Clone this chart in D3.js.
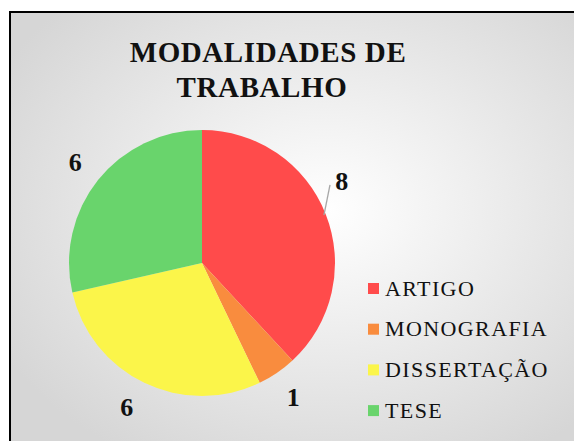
<!DOCTYPE html>
<html lang="en">
<head>
<meta charset="utf-8">
<title>Modalidades de trabalho</title>
<script src="https://d3js.org/d3.v7.min.js"></script>
<style>
  body { margin: 0; background: #fff; }
</style>
</head>
<body>
<div id="chart"></div>
<script>
// data
var categories = ['ARTIGO', 'MONOGRAFIA', 'DISSERTAÇÃO', 'TESE'];
var values = [8, 1, 6, 6];
var colors = ['#ff4b4b', '#f98c3e', '#fbf54a', '#69d46c'];
var titleLines = ['MODALIDADES DE', 'TRABALHO'];

var width = 574, height = 441;
var cx = 202, cy = 263, r = 133;
var serif = "'Liberation Serif', 'Times New Roman', Times, serif";

var svg = d3.select('#chart').append('svg')
  .attr('width', width)
  .attr('height', height)
  .style('font-family', serif);

var defs = svg.append('defs');
var grad = defs.append('radialGradient')
  .attr('id', 'bg')
  .attr('cx', '55%').attr('cy', '45%').attr('r', '65%');
grad.append('stop').attr('offset', '0%').attr('stop-color', '#ffffff');
grad.append('stop').attr('offset', '100%').attr('stop-color', '#d6d6d6');

// frame
svg.append('rect')
  .attr('x', 10).attr('y', 12)
  .attr('width', width).attr('height', height)
  .attr('fill', 'url(#bg)')
  .attr('stroke', '#000')
  .attr('stroke-width', 2);

// title
var titleX = [268, 262];
svg.append('g').selectAll('text')
  .data(titleLines)
  .join('text')
  .attr('x', function(d, i) { return titleX[i]; })
  .attr('y', function(d, i) { return 62 + i * 35; })
  .attr('text-anchor', 'middle')
  .attr('font-size', '29px')
  .attr('font-weight', 'bold')
  .attr('letter-spacing', '0.6px')
  .attr('fill', '#111')
  .text(function(d) { return d; });

// pie
var pie = d3.pie().sort(null).value(function(d) { return d; });
var arcs = pie(values);
var arc = d3.arc().innerRadius(0).outerRadius(r);

var g = svg.append('g').attr('transform', 'translate(' + cx + ',' + cy + ')');
g.selectAll('path')
  .data(arcs)
  .join('path')
  .attr('d', arc)
  .attr('fill', function(d, i) { return colors[i]; });

// data labels (Excel "best fit"): the first one is pushed up and gets a leader line
var labelR = 162;
var shift = [-9, 0, 2, 0]; // degrees
function polar(rad, ang) { return [rad * Math.sin(ang), -rad * Math.cos(ang)]; }

arcs.forEach(function(d, i) {
  var mid = (d.startAngle + d.endAngle) / 2;
  var a = mid + shift[i] * Math.PI / 180;
  var p = polar(labelR, a);
  if (shift[i] < 0) {
    var p0 = polar(r - 2, mid);
    var p1 = polar(r + 17, a - 1 * Math.PI / 180);
    g.append('line')
      .attr('x1', p0[0]).attr('y1', p0[1])
      .attr('x2', p1[0]).attr('y2', p1[1])
      .attr('stroke', '#a6a6a6').attr('stroke-width', 1.3);
  }
  g.append('text')
    .attr('x', p[0]).attr('y', p[1])
    .attr('dy', '0.35em')
    .attr('text-anchor', 'middle')
    .attr('font-size', '26px')
    .attr('font-weight', 'bold')
    .attr('fill', '#111')
    .text(values[i]);
});

// legend
var legend = svg.append('g').attr('transform', 'translate(368,283)');
var items = legend.selectAll('g')
  .data(categories)
  .join('g')
  .attr('transform', function(d, i) { return 'translate(0,' + i * 40.7 + ')'; });
items.append('rect')
  .attr('width', 11).attr('height', 11)
  .attr('fill', function(d, i) { return colors[i]; });
items.append('text')
  .attr('x', 17).attr('y', 12.5)
  .attr('font-size', '22px')
  .attr('letter-spacing', '1.4px')
  .attr('fill', '#111')
  .text(function(d) { return d; });
</script>
</body>
</html>
